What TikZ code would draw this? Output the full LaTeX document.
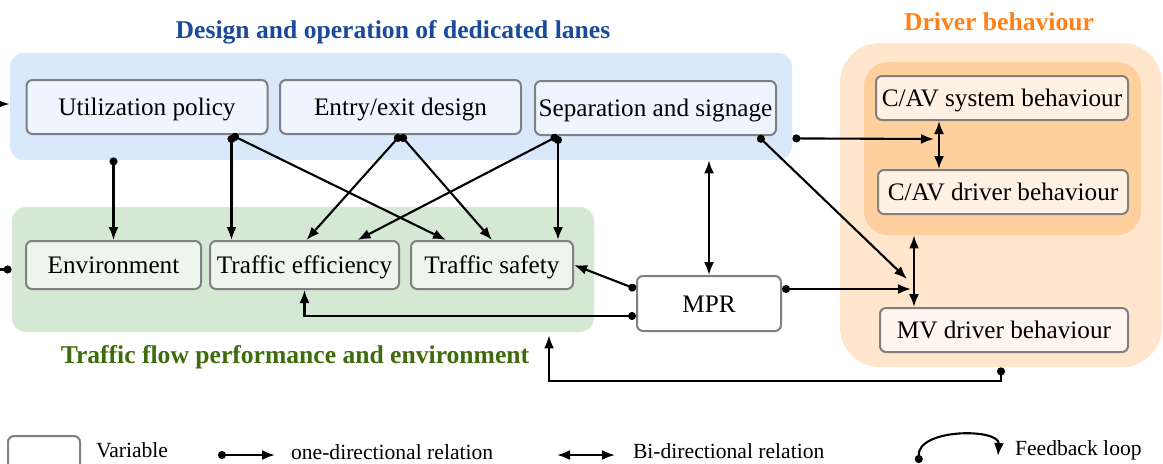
\documentclass[tikz,border=0pt]{standalone}
\usepackage{fontspec}
\setmainfont{Liberation Serif}
\usetikzlibrary{arrows.meta,calc}
\definecolor{laneblue}{RGB}{218,232,252}
\definecolor{lanebox}{RGB}{238,245,255}
\definecolor{lanetitle}{RGB}{26,74,154}
\definecolor{flowgreen}{RGB}{213,232,212}
\definecolor{flowbox}{RGB}{238,245,237}
\definecolor{flowtitle}{RGB}{62,107,11}
\definecolor{drvout}{RGB}{255,230,204}
\definecolor{drvin}{RGB}{255,208,158}
\definecolor{drvbox}{RGB}{255,242,229}
\definecolor{drvtitle}{RGB}{255,128,24}
\definecolor{boxgray}{RGB}{128,128,128}
\tikzset{
  var/.style={draw=boxgray,line width=1pt,rounded corners=3pt,inner sep=0pt,text height=9.5pt,text depth=0.6pt,font=\fontsize{12.6}{15}\selectfont},
  grp/.style={rounded corners=7pt,inner sep=0pt},
  ttl/.style={font=\bfseries\fontsize{12.8}{15}\selectfont},
  lgtext/.style={anchor=west,font=\fontsize{10.8}{13}\selectfont},
  onedir/.style={{Circle[length=4pt]}->,line width=1.05pt},
  bidir/.style={<->,line width=1.05pt},
}
\begin{document}
\begin{tikzpicture}[x=0.5pt,y=-0.5pt,>={Latex[length=6.5pt,width=5pt]}]
\useasboundingbox (0,0) rectangle (1163,463);
% groups
\node[grp,fill=laneblue,minimum width=391pt,minimum height=53.5pt] (lanes) at (401,106.5) {};
\node[grp,fill=flowgreen,minimum width=291pt,minimum height=62.5pt] (flow) at (303,269.5) {};
\node[grp,rounded corners=20pt,fill=drvout,minimum width=161pt,minimum height=162pt] (drv) at (1001,205) {};
\node[grp,rounded corners=12pt,fill=drvin,minimum width=138.5pt,minimum height=86.5pt] (cav) at (1002.5,148.5) {};
\node[ttl,text=lanetitle] (lanettl) at (393,32) {Design and operation of dedicated lanes};
\node[ttl,text=flowtitle] (flowttl) at (295,357) {Traffic flow performance and environment};
\node[ttl,text=drvtitle] (drvttl) at (999,22) {Driver behaviour};
% variables
\node[var,fill=lanebox,minimum width=120.5pt,minimum height=27pt] (util) at (147,107) {Utilization policy};
\node[var,fill=lanebox,minimum width=120.5pt,minimum height=27pt] (entry) at (400.5,107) {Entry/exit design};
\node[var,fill=lanebox,minimum width=120.5pt,minimum height=27pt] (sep) at (655.5,108) {Separation and signage};
\node[var,fill=flowbox,minimum width=87.5pt,minimum height=24pt] (env) at (113.5,265) {Environment};
\node[var,fill=flowbox,minimum width=94.5pt,minimum height=24pt] (eff) at (304.5,265) {Traffic efficiency};
\node[var,fill=flowbox,minimum width=81pt,minimum height=24pt] (safe) at (492,265) {Traffic safety};
\node[var,fill=white,minimum width=72pt,minimum height=27.5pt] (mpr) at (709,303.5) {MPR};
\node[var,fill=drvbox,minimum width=126pt,minimum height=22pt] (cavsys) at (1002,98) {C/AV system behaviour};
\node[var,fill=drvbox,minimum width=125pt,minimum height=22pt] (cavdrv) at (1003,192) {C/AV driver behaviour};
\node[var,fill=drvbox!60!white,minimum width=124pt,minimum height=22pt] (mv) at (1004,330) {MV driver behaviour};
% loops leaving the picture
\coordinate (inL) at (-30,104);
\coordinate (outL) at (-30,269.5);
\draw[->,line width=1.05pt] (inL) -- (inL -| lanes.west);
\draw[{Circle[length=4pt]}-,line width=1.05pt] (flow.west) -- (outL);
% design -> traffic flow
\draw[onedir] ($(env.north |- lanes.south)+(0,-3)$) -- (env.north);
\coordinate (u) at ($(util.south east)+(-37,0)$);
\draw[onedir] (u) -- (u |- eff.north);
\draw[onedir] (u) -- ($(safe.north west)+(36,0)$);
\draw[onedir] (entry.south) -- ($(eff.north)+(2,0)$);
\draw[onedir] (entry.south) -- (safe.north);
\coordinate (s) at ($(sep.south west)+(24,0)$);
\draw[onedir] (s) -- ($(eff.north)+(53,0)$);
\draw[onedir] (s) -- (s |- safe.north);
% MPR
\draw[bidir] (mpr.north |- lanes.south) -- (mpr.north);
\draw[onedir] ($(mpr.west)+(0,-14.5)$) -- (safe.east);
\draw[onedir] ($(mpr.west)+(0,12.5)$) -| (eff.south);
% driver behaviour
\coordinate (b1) at ($(cavsys.south west)+(64,0)$);
\coordinate (b2) at ($(mv.north west)+(35,0)$);
\draw[bidir] (b1) -- (b1 |- cavdrv.north);
\draw[bidir] (b2 |- cav.south) -- (b2);
\draw[onedir] ($(lanes.south east)+(0,-22)$) -- ($(b1)+(-5,18)$);
\draw[onedir] ($(sep.south east)+(-19,0)$) -- ($(b2)+(-7,-28)$);
\draw[onedir] ($(mpr.east)+(0,-14.5)$) -- ($(b2 |- mpr.east)+(-3,-14.5)$);
\draw[onedir] (drv.south) -- ++(0,14) -| ($(flow.south)+(246,3)$);
% legend
\node[var,fill=white,minimum width=36pt,minimum height=22pt] (lgvar) at (44,458) {};
\node[lgtext] (lgvartxt) at (89,450) {Variable};
\coordinate (lg1) at (218,455);
\coordinate (lg2) at (275,455);
\draw[onedir] (lg1) -- (lg2);
\node[lgtext] (lgone) at (284,452) {one-directional relation};
\coordinate (lg3) at (557,455);
\coordinate (lg4) at (615,455);
\draw[bidir] (lg3) -- (lg4);
\node[lgtext] (lgbi) at (626,451) {Bi-directional relation};
\coordinate (lg5) at (919,463);
\coordinate (lg6) at (998,456);
\draw[onedir] (lg5) .. controls (917,428) and (1000,428) .. (lg6);
\node[lgtext] (lgfb) at (1008,450) {Feedback loop};
\end{tikzpicture}
\end{document}
